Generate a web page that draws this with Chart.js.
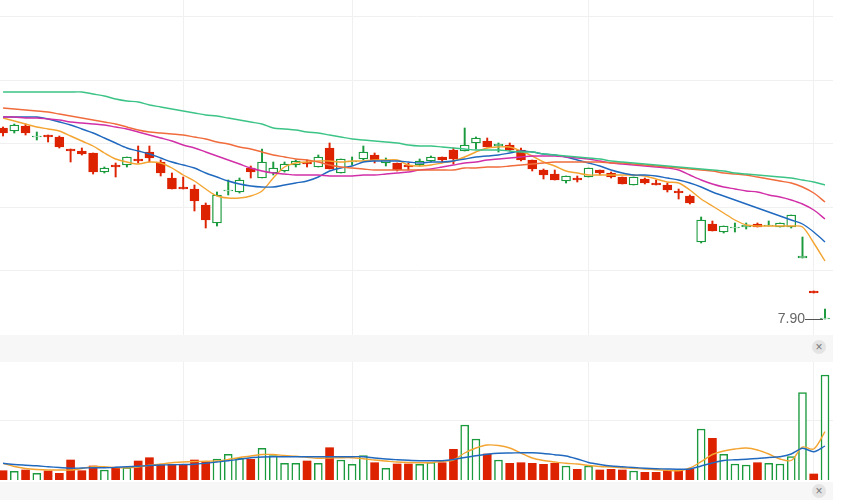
<!DOCTYPE html>
<html>
<head>
<meta charset="utf-8">
<script src="https://cdn.jsdelivr.net/npm/chart.js@4.4.1/dist/chart.umd.min.js"></script>
<style>
  html, body { margin: 0; padding: 0; background: #fff; }
  #wrap { position: relative; width: 860px; height: 500px; overflow: hidden; }
  #kline { position: absolute; left: 0; top: 0; }
  #vol { position: absolute; left: 0; top: 362px; }
  .strip { position: absolute; left: 0; width: 833px; background: #f7f7f7; }
  .close {
    position: absolute; left: 812px; width: 14px; height: 14px; border-radius: 50%;
    background: #e4e4e4; color: #777; font: 12px/14px "Liberation Sans", Arial, sans-serif;
    text-align: center;
  }
</style>
</head>
<body>
<div id="wrap">
  <canvas id="kline" width="833" height="335"></canvas>
  <div class="strip" style="top:335px;height:27px;"><div class="close" style="top:5px;">×</div></div>
  <canvas id="vol" width="833" height="118"></canvas>
  <div class="strip" style="top:482px;height:18px;"><div class="close" style="top:2px;">×</div></div>
</div>
<script>
/****************************** data ********************************/
const opens = [9.81, 9.78, 9.83, 9.72, 9.74, 9.72, 9.60, 9.58, 9.56, 9.37,
    9.44, 9.44, 9.50, 9.57, 9.47, 9.31, 9.22, 9.20, 9.04, 8.86,
    9.18, 9.17, 9.41, 9.31, 9.36, 9.38, 9.44, 9.47, 9.42, 9.61,
    9.36, 9.47, 9.50, 9.54, 9.46, 9.46, 9.44, 9.44, 9.48, 9.52,
    9.59, 9.58, 9.66, 9.68, 9.63, 9.64, 9.59, 9.49, 9.39, 9.35,
    9.28, 9.31, 9.32, 9.39, 9.36, 9.32, 9.24, 9.30, 9.26, 9.24,
    9.18, 9.13, 8.67, 8.85, 8.77, 8.81, 8.82, 8.85, 8.83, 8.82,
    8.82, 8.51, 8.18, 7.90];
const highs = [9.82, 9.85, 9.85, 9.77, 9.74, 9.73, 9.60, 9.61, 9.56, 9.42,
    9.46, 9.52, 9.63, 9.63, 9.49, 9.36, 9.32, 9.24, 9.06, 9.17,
    9.29, 9.31, 9.43, 9.60, 9.47, 9.47, 9.49, 9.49, 9.54, 9.66,
    9.50, 9.52, 9.63, 9.56, 9.51, 9.46, 9.46, 9.50, 9.53, 9.52,
    9.61, 9.81, 9.72, 9.71, 9.66, 9.66, 9.61, 9.49, 9.40, 9.39,
    9.33, 9.33, 9.41, 9.39, 9.37, 9.32, 9.32, 9.31, 9.29, 9.26,
    9.20, 9.14, 8.92, 8.88, 8.83, 8.86, 8.86, 8.86, 8.88, 8.86,
    8.94, 8.72, 8.18, 8.00];
const lows = [9.73, 9.76, 9.74, 9.69, 9.67, 9.61, 9.47, 9.54, 9.35, 9.36,
    9.32, 9.42, 9.46, 9.47, 9.33, 9.20, 9.20, 8.98, 8.81, 8.83,
    9.14, 9.16, 9.31, 9.31, 9.34, 9.37, 9.42, 9.42, 9.42, 9.40,
    9.36, 9.44, 9.49, 9.46, 9.43, 9.38, 9.39, 9.43, 9.47, 9.47,
    9.45, 9.58, 9.60, 9.62, 9.57, 9.58, 9.48, 9.38, 9.30, 9.29,
    9.26, 9.27, 9.32, 9.34, 9.31, 9.25, 9.24, 9.25, 9.24, 9.17,
    9.10, 9.05, 8.66, 8.78, 8.76, 8.77, 8.80, 8.82, 8.83, 8.82,
    8.81, 8.51, 8.16, 7.90];
const closes = [9.76, 9.84, 9.76, 9.73, 9.72, 9.62, 9.58, 9.55, 9.37, 9.41,
    9.42, 9.52, 9.48, 9.51, 9.36, 9.20, 9.20, 9.08, 8.89, 9.14,
    9.19, 9.29, 9.37, 9.47, 9.41, 9.45, 9.48, 9.45, 9.52, 9.40,
    9.50, 9.48, 9.57, 9.49, 9.49, 9.39, 9.42, 9.48, 9.52, 9.49,
    9.50, 9.64, 9.71, 9.62, 9.65, 9.59, 9.49, 9.40, 9.34, 9.29,
    9.33, 9.29, 9.41, 9.36, 9.32, 9.25, 9.32, 9.26, 9.24, 9.19,
    9.16, 9.06, 8.89, 8.78, 8.83, 8.82, 8.84, 8.82, 8.84, 8.86,
    8.94, 8.53, 8.16, 7.91];

// moving averages as shown on the chart
const ma5 = [9.91, 9.88, 9.85, 9.82, 9.80, 9.78, 9.73, 9.68, 9.63, 9.56,
    9.50, 9.47, 9.45, 9.47, 9.46, 9.41, 9.34, 9.28, 9.20, 9.13,
    9.11, 9.11, 9.13, 9.18, 9.31, 9.42, 9.46, 9.47, 9.48, 9.48,
    9.47, 9.48, 9.48, 9.49, 9.49, 9.49, 9.44, 9.43, 9.44, 9.46,
    9.48, 9.52, 9.57, 9.61, 9.62, 9.62, 9.58, 9.53, 9.47, 9.43,
    9.38, 9.36, 9.34, 9.34, 9.34, 9.34, 9.34, 9.33, 9.30, 9.27,
    9.26, 9.19, 9.10, 9.03, 8.96, 8.89, 8.84, 8.83, 8.83, 8.83,
    8.83, 8.82, 8.66, 8.48];
const ma10 = [9.92, 9.92, 9.92, 9.92, 9.90, 9.87, 9.84, 9.80, 9.76, 9.71,
    9.66, 9.61, 9.58, 9.55, 9.51, 9.47, 9.44, 9.41, 9.36, 9.32,
    9.28, 9.25, 9.23, 9.22, 9.22, 9.24, 9.26, 9.28, 9.32, 9.38,
    9.41, 9.43, 9.47, 9.48, 9.48, 9.48, 9.47, 9.46, 9.47, 9.47,
    9.48, 9.50, 9.52, 9.53, 9.54, 9.56, 9.58, 9.57, 9.55, 9.54,
    9.52, 9.49, 9.46, 9.43, 9.39, 9.36, 9.34, 9.34, 9.33, 9.31,
    9.29, 9.26, 9.22, 9.17, 9.13, 9.09, 9.05, 9.01, 8.97, 8.93,
    8.89, 8.85, 8.77, 8.67];
const ma20 = [9.92, 9.92, 9.91, 9.91, 9.90, 9.89, 9.87, 9.86, 9.85, 9.84,
    9.82, 9.80, 9.77, 9.74, 9.71, 9.68, 9.64, 9.61, 9.57, 9.53,
    9.49, 9.45, 9.41, 9.38, 9.36, 9.35, 9.34, 9.34, 9.34, 9.33,
    9.33, 9.33, 9.34, 9.34, 9.35, 9.36, 9.37, 9.39, 9.40, 9.42,
    9.44, 9.46, 9.47, 9.49, 9.50, 9.51, 9.52, 9.53, 9.53, 9.53,
    9.52, 9.51, 9.50, 9.48, 9.46, 9.45, 9.44, 9.43, 9.42, 9.41,
    9.39, 9.34, 9.29, 9.25, 9.22, 9.20, 9.18, 9.17, 9.14, 9.12,
    9.09, 9.05, 8.99, 8.90];
const ma30 = [10.01, 10.00, 9.99, 9.98, 9.97, 9.95, 9.93, 9.91, 9.89, 9.87,
    9.85, 9.82, 9.79, 9.77, 9.76, 9.75, 9.74, 9.72, 9.70, 9.67,
    9.65, 9.62, 9.60, 9.57, 9.54, 9.52, 9.50, 9.49, 9.47, 9.44,
    9.42, 9.41, 9.40, 9.39, 9.39, 9.39, 9.39, 9.39, 9.39, 9.39,
    9.39, 9.41, 9.41, 9.42, 9.42, 9.43, 9.44, 9.45, 9.46, 9.47,
    9.47, 9.47, 9.47, 9.47, 9.46, 9.46, 9.45, 9.44, 9.43, 9.42,
    9.41, 9.40, 9.39, 9.38, 9.36, 9.35, 9.34, 9.32, 9.30, 9.28,
    9.26, 9.22, 9.16, 9.07];
const ma60 = [10.17, 10.17, 10.17, 10.17, 10.17, 10.17, 10.17, 10.17, 10.15, 10.13,
    10.10, 10.08, 10.07, 10.04, 10.02, 10.00, 9.98, 9.96, 9.94, 9.93,
    9.91, 9.89, 9.87, 9.85, 9.81, 9.80, 9.79, 9.77, 9.76, 9.74,
    9.72, 9.70, 9.69, 9.68, 9.67, 9.66, 9.64, 9.63, 9.63, 9.62,
    9.61, 9.60, 9.59, 9.59, 9.59, 9.58, 9.57, 9.57, 9.55, 9.54,
    9.53, 9.52, 9.51, 9.50, 9.48, 9.47, 9.46, 9.45, 9.44, 9.43,
    9.42, 9.41, 9.40, 9.39, 9.38, 9.36, 9.35, 9.34, 9.33, 9.32,
    9.31, 9.29, 9.27, 9.24];

// volume, thousand lots
const volume = [9.3, 8.7, 10, 6.7, 9, 6.7, 20, 9.3, 14, 10,
    12.3, 12.3, 19, 22.3, 15, 15.7, 15.7, 20, 18.3, 21,
    25.7, 21.7, 20.7, 31.7, 24.3, 16.7, 16.7, 19, 16.7, 32.3,
    20, 15.7, 24.3, 17.3, 11.7, 16, 16, 15.7, 17.7, 17.3,
    30.7, 55, 41, 26, 20, 16.7, 17.3, 16.7, 15.7, 16.7,
    14, 10.7, 14, 10, 10.7, 10, 9, 7.7, 7.7, 9.3,
    10, 10.7, 51, 41.7, 25.7, 16, 15, 17.3, 16.7, 16,
    23.3, 87.3, 6, 105];
const volMa5 = [16.7, 13.5, 11.5, 10.5, 10, 10, 10, 11.5, 13.5, 13.3,
    12.5, 12.2, 13, 14.7, 16, 17.3, 18, 18.5, 18.8, 19,
    20.5, 22.5, 24, 25.5, 25.5, 24.5, 23.8, 22.7, 21.7, 22,
    22.3, 22.3, 21.3, 20, 19, 18, 17.5, 17.3, 17.3, 18.7,
    20, 27, 32, 35, 34.5, 32, 27, 22, 19.5, 18,
    16.7, 16, 14.5, 13.5, 13, 12.3, 11.7, 11, 10.3, 9.7,
    9.3, 12, 18.3, 25.5, 29, 31, 32, 30, 26, 21,
    19.5, 33, 31, 48.3];
const volMa10 = [16.7, 15.5, 14.8, 14.2, 13.3, 12.5, 11.8, 12, 12.2, 12.3,
    12.7, 13.2, 13.8, 14.5, 15, 15.3, 15.5, 15.8, 16.8, 18,
    19.2, 20.8, 22.3, 23, 23.3, 23.3, 23.3, 23.3, 23.3, 23.3,
    23.3, 23.3, 23.3, 22, 21, 20.3, 19.7, 19.3, 19.3, 19.3,
    20.5, 22.5, 24.3, 25.7, 26.7, 27, 27.2, 27.2, 26.5, 25.3,
    24, 21, 17.5, 15.5, 14, 13.3, 12.5, 11.8, 11.3, 11,
    10.8, 11, 14, 17, 19.5, 20.3, 20.8, 21.5, 22.5, 23.3,
    26, 31.7, 28.3, 34];

// month boundaries (candle index) and hidden price / volume grid values
const monthTicks = [16, 31, 52, 72];
const priceTicks = [8.38, 9.015, 9.65, 10.285, 10.92];
const volTicks = [60];

const RED = '#dd2200';
const GREEN = '#1a9a3c';
const GRID = '#f0f0f0';

const idx = closes.map((_, i) => i);
const up = closes.map((c, i) => c >= opens[i]);

/****************************** shared x axis ********************************/
function xAxis() {
    return {
        type: 'linear',
        min: -0.27,
        max: 73.71,
        offset: false,
        afterBuildTicks: axis => { axis.ticks = monthTicks.map(v => ({ value: v })); },
        ticks: { display: false },
        grid: { color: GRID, drawTicks: false, offset: false },
        border: { display: false }
    };
}

function maLine(values, color) {
    return {
        type: 'line',
        data: idx.map(i => ({ x: i, y: values[i] })),
        borderColor: color,
        borderWidth: 1.4,
        pointRadius: 0,
        tension: 0.3,
        order: 1
    };
}

// min price marker: "7.90 ——" pointing at lowest low
const minMarker = {
    id: 'minMarker',
    afterDatasetsDraw(chart) {
        const { ctx, scales: { x, y } } = chart;
        let m = 0;
        lows.forEach((v, i) => { if (v < lows[m]) m = i; });
        const px = x.getPixelForValue(m);
        const py = Math.round(y.getPixelForValue(lows[m])) + 0.5;
        ctx.save();
        ctx.strokeStyle = '#555';
        ctx.lineWidth = 1;
        ctx.beginPath();
        ctx.moveTo(px - 20, py);
        ctx.lineTo(px - 2, py);
        ctx.stroke();
        ctx.fillStyle = '#666';
        ctx.font = '14px "Liberation Sans", Arial, sans-serif';
        ctx.textAlign = 'right';
        ctx.textBaseline = 'middle';
        ctx.fillText(lows[m].toFixed(2), px - 20, py);
        ctx.restore();
    }
};

/****************************** K line ********************************/
new Chart(document.getElementById('kline'), {
    type: 'bar',
    data: {
        datasets: [
            {
                // wicks
                data: idx.map(i => ({ x: i, y: [lows[i], highs[i]] })),
                backgroundColor: up.map(u => u ? GREEN : RED),
                barThickness: 1.3,
                grouped: false,
                order: 3
            },
            {
                // bodies
                data: idx.map(i => ({ x: i, y: [opens[i], closes[i]] })),
                backgroundColor: up.map(u => u ? '#ffffff' : RED),
                borderColor: up.map(u => u ? GREEN : RED),
                borderWidth: 1.3,
                borderSkipped: false,
                barThickness: 9,
                grouped: false,
                order: 2
            },
            maLine(ma60, '#3cc487'),
            maLine(ma30, '#f06c3c'),
            maLine(ma20, '#d12fa8'),
            maLine(ma10, '#2069bf'),
            maLine(ma5, '#f3a431')
        ]
    },
    options: {
        responsive: false,
        animation: false,
        events: [],
        layout: { padding: 0 },
        plugins: { legend: { display: false }, tooltip: { enabled: false } },
        scales: {
            x: xAxis(),
            y: {
                min: 7.74,
                max: 11.09,
                afterBuildTicks: axis => { axis.ticks = priceTicks.map(v => ({ value: v })); },
                ticks: { display: false },
                grid: { color: GRID, drawTicks: false },
                border: { display: false }
            }
        }
    },
    plugins: [minMarker]
});

/****************************** Volume ********************************/
new Chart(document.getElementById('vol'), {
    type: 'bar',
    data: {
        datasets: [
            {
                data: idx.map(i => ({ x: i, y: volume[i] })),
                backgroundColor: up.map(u => u ? '#ffffff' : RED),
                borderColor: up.map(u => u ? GREEN : RED),
                borderWidth: up.map(u => u ? 1.5 : 0),
                borderSkipped: 'bottom',
                barThickness: 8,
                grouped: false,
                order: 2
            },
            maLine(volMa10, '#2069bf'),
            maLine(volMa5, '#f3a431')
        ]
    },
    options: {
        responsive: false,
        animation: false,
        events: [],
        layout: { padding: 0 },
        plugins: { legend: { display: false }, tooltip: { enabled: false } },
        scales: {
            x: xAxis(),
            y: {
                min: 0,
                max: 118,
                afterBuildTicks: axis => { axis.ticks = volTicks.map(v => ({ value: v })); },
                ticks: { display: false },
                grid: { color: GRID, drawTicks: false },
                border: { display: false }
            }
        }
    }
});
</script>
</body>
</html>
